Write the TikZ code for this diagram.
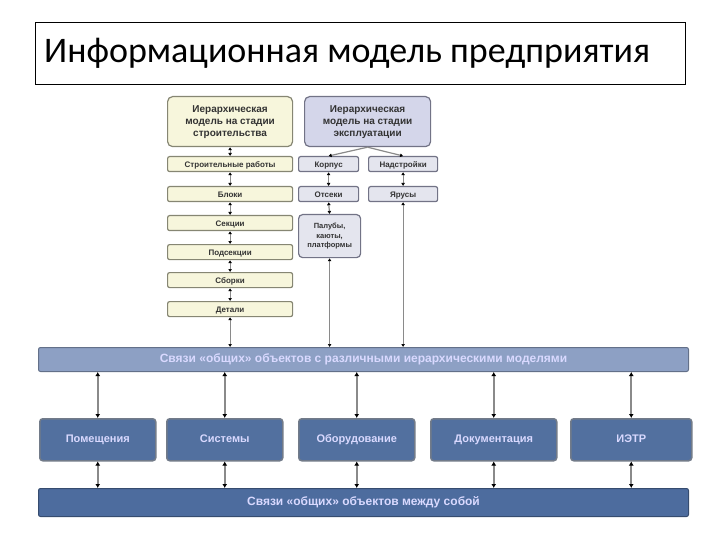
\documentclass[tikz,border=0pt]{standalone}
\usepackage{fontspec}
\setmainfont{Liberation Sans}
\newfontfamily\titlefont{Carlito}
\usetikzlibrary{arrows.meta}
\definecolor{ylw}{HTML}{F7F6DC}
\definecolor{ylwb}{HTML}{A8A890}
\definecolor{lav}{HTML}{D4D6EA}
\definecolor{lavb}{HTML}{8E90A8}
\definecolor{gbox}{HTML}{E4E5EE}
\definecolor{bandA}{HTML}{8DA0C4}
\definecolor{bandB}{HTML}{4D6C9E}
\definecolor{bbox}{HTML}{52709F}
\definecolor{lnc}{HTML}{8A8A8A}
\tikzset{
  box/.style={draw=#1!80!black, line width=1.2pt, inner sep=0pt, anchor=north west, rounded corners=2pt, font=\fontsize{8}{9}\selectfont\bfseries, text=black!80, align=center},
  ybox/.style={box=ylwb, fill=ylw, text height=1.5ex, text depth=0.3ex},
  lbox/.style={box=lavb, fill=gbox, text height=1.5ex, text depth=0.3ex},
  tallbox/.style={box=lavb, fill=gbox, rounded corners=4pt, font=\fontsize{7.5}{9.5}\selectfont\bfseries},
  bigy/.style={box=ylwb, fill=ylw, rounded corners=5pt, font=\fontsize{10}{12}\selectfont\bfseries},
  bigl/.style={box=lavb, fill=lav, rounded corners=5pt, font=\fontsize{10}{12}\selectfont\bfseries},
  band/.style={draw=#1!70!black, fill=#1, line width=1pt, inner sep=0pt, anchor=north west, rounded corners=2pt, text=white!85!blue, font=\fontsize{12}{14}\selectfont\bfseries, text height=1.5ex, text depth=0.3ex},
  bot/.style={draw=gray!70!bbox, fill=bbox, line width=1.5pt, inner sep=0pt, anchor=north west, rounded corners=3pt, text=white!85!blue, font=\fontsize{11}{13}\selectfont\bfseries, minimum height=42pt, text height=1.5ex, text depth=0.3ex},
  arr/.style={draw=lnc, line width=2pt, {Latex[length=4pt,width=5pt,black]}-{Latex[length=4pt,width=5pt,black]}},
  arrs/.style={draw=lnc, line width=1.2pt, {Latex[length=3pt,width=4pt,black]}-{Latex[length=3pt,width=4pt,black]}},
  arro/.style={draw=lnc, line width=1.2pt, -{Latex[length=3pt,width=4pt,black]}},
  sz/.style 2 args={minimum width=#1pt, minimum height=#2pt}
}
\begin{document}
\begin{tikzpicture}[x=1pt,y=-1pt]
\useasboundingbox (0,0) rectangle (720,540);
% title
\node[draw=black, line width=0.6pt, anchor=north west, minimum width=650pt, minimum height=62pt, inner sep=0pt] (titlebox) at (35,22) {};
\node[anchor=west, inner sep=0pt, font=\titlefont\fontsize{36}{40}\selectfont] (title) at (44,53) {Информационная модель предприятия};
% top models
\node[bigy, sz={125}{50}] (hc) at (167,96) {Иерархическая\\модель на стадии\\строительства};
\node[bigl, sz={126}{50}] (he) at (304,96) {Иерархическая\\модель на стадии\\эксплуатации};
% left column
\node[ybox, sz={125}{15}] (l1) at (167,156) {Строительные работы};
\node[ybox, sz={125}{15}] (l2) at (167,186) {Блоки};
\node[ybox, sz={125}{15}] (l3) at (167,215) {Секции};
\node[ybox, sz={125}{15}] (l4) at (167,244) {Подсекции};
\node[ybox, sz={125}{15}] (l5) at (167,272) {Сборки};
\node[ybox, sz={125}{15}] (l6) at (167,301) {Детали};
% right column
\node[lbox, sz={60}{15}] (r1) at (298,156) {Корпус};
\node[lbox, sz={69}{15}] (r2) at (368,156) {Надстройки};
\node[lbox, sz={60}{15}] (r3) at (298,186) {Отсеки};
\node[lbox, sz={69}{15}] (r4) at (368,186) {Ярусы};
\node[tallbox, sz={62}{43}] (r5) at (298,214) {Палубы,\\каюты,\\платформы};
% bands
\node[band=bandA, minimum width=650pt, minimum height=24pt] (b1) at (38,347) {Связи «общих» объектов с различными иерархическими моделями};
\node[band=bandB, minimum width=650pt, minimum height=28pt] (b2) at (38,488) {Связи «общих» объектов между собой};
% bottom boxes
\node[bot, minimum width=116pt] (p1) at (39,418) {Помещения};
\node[bot, minimum width=116pt] (p2) at (166,418) {Системы};
\node[bot, minimum width=116pt] (p3) at (298,418) {Оборудование};
\node[bot, minimum width=126pt] (p4) at (430,418) {Документация};
\node[bot, minimum width=121pt] (p5) at (570,418) {ИЭТР};
% left chain arrows
\draw[arrs] (hc.south) -- (l1.north);
\draw[arrs] (l1.south) -- (l2.north);
\draw[arrs] (l2.south) -- (l3.north);
\draw[arrs] (l3.south) -- (l4.north);
\draw[arrs] (l4.south) -- (l5.north);
\draw[arrs] (l5.south) -- (l6.north);
\draw[arrs] (l6.south) -- (l6.south |- b1.north);
% right side
\draw[arro] (he.south) -- (r1.north);
\draw[arro] (he.south) -- (r2.north);
\draw[arrs] (r1.south) -- (r3.north);
\draw[arrs] (r2.south) -- (r4.north);
\draw[arrs] (r3.south) -- (r5.north);
\draw[arrs] (r5.south) -- (r5.south |- b1.north);
\draw[arrs] (r4.south) -- (r4.south |- b1.north);
% band arrows
\foreach \n in {p1,p2,p3,p4,p5}{
  \draw[arr] (\n.north |- b1.south) -- (\n.north);
  \draw[arr] (\n.south) -- (\n.south |- b2.north);
}
\end{tikzpicture}
\end{document}
